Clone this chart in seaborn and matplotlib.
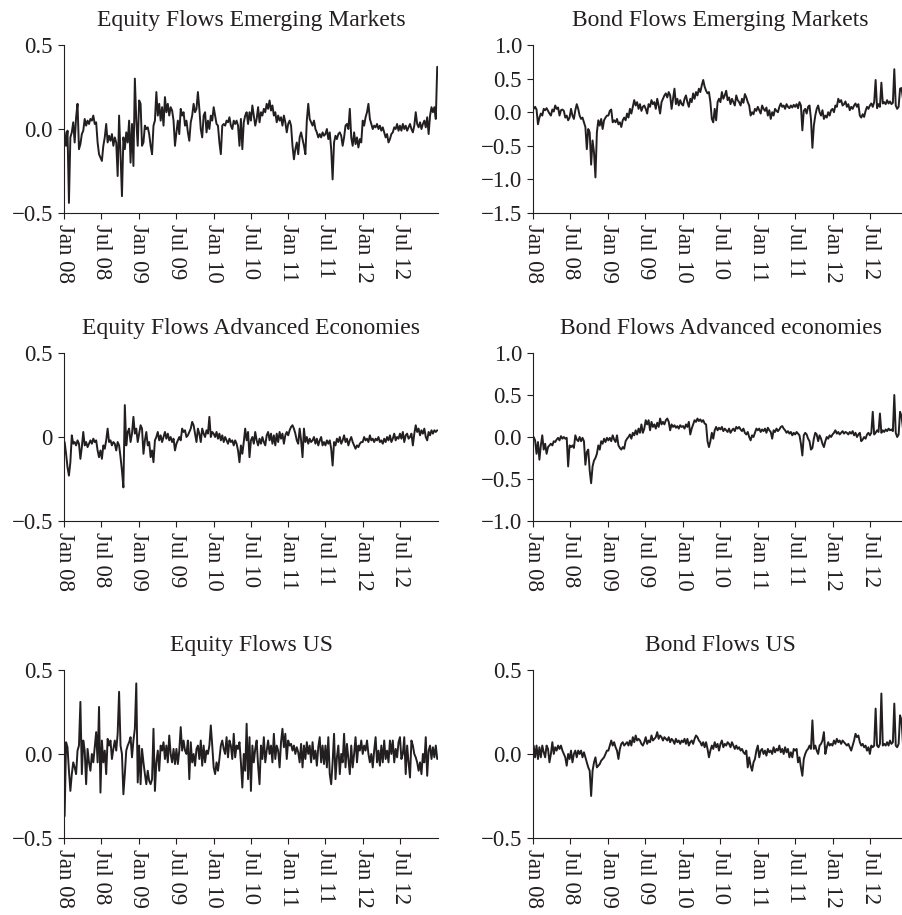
import pandas as pd
import matplotlib
matplotlib.use("Agg")
import matplotlib.pyplot as plt
import seaborn as sns

# weekly flows, Jan 2008 - Dec 2012 (one row per half-year)
eq_em = [
    -0.02, -0.10, -0.01, -0.44, -0.05, -0.02, 0.04, -0.08, 0.07, 0.15, -0.12, -0.09, -0.03, -0.01, 0.06, 0.02, 0.05, 0.03, 0.06, 0.05, 0.08, 0.03, 0.04, -0.08, -0.15, -0.17,
    -0.19, -0.10, -0.05, 0.03, -0.08, -0.04, -0.07, -0.03, -0.10, -0.05, -0.08, -0.28, 0.08, -0.15, -0.40, -0.05, -0.12, -0.02, -0.08, 0.05, -0.20, 0.03, -0.22, 0.30, 0.05, -0.10,
    0.17, 0.15, -0.10, -0.08, 0.02, 0.00, 0.01, -0.03, -0.10, -0.15, 0.02, 0.05, 0.22, 0.08, 0.15, 0.05, 0.13, 0.02, 0.19, 0.10, 0.15, 0.08, 0.13, 0.11, 0.05, -0.10,
    -0.02, 0.05, -0.03, 0.12, 0.08, 0.10, 0.02, 0.05, -0.02, -0.07, 0.04, 0.08, 0.15, 0.10, 0.12, 0.22, 0.12, 0.00, -0.05, 0.08, 0.10, -0.02, 0.05, 0.00, 0.08, 0.05,
    0.13, 0.08, 0.03, 0.02, -0.08, -0.15, 0.02, 0.03, 0.02, 0.05, 0.04, 0.07, 0.02, 0.00, 0.05, 0.03, 0.05, 0.02, -0.10, 0.06, -0.12, 0.04, 0.08, 0.10, 0.03, 0.10,
    0.05, 0.14, 0.08, 0.02, 0.06, 0.13, 0.04, 0.10, 0.08, 0.12, 0.10, 0.15, 0.12, 0.17, 0.11, 0.14, 0.08, 0.10, 0.04, 0.08, 0.05, 0.07, 0.02, 0.08, 0.04, -0.02,
    0.03, 0.05, 0.02, -0.10, -0.18, -0.12, -0.08, -0.15, -0.05, -0.02, -0.06, -0.10, -0.15, 0.05, 0.15, 0.06, 0.04, 0.02, 0.05, 0.00, -0.02, -0.05, -0.03, -0.05, -0.02, -0.04,
    -0.03, 0.00, -0.06, -0.02, -0.12, -0.30, -0.08, -0.04, -0.06, -0.03, -0.02, -0.04, -0.10, -0.05, 0.02, 0.03, 0.00, 0.12, -0.05, -0.10, -0.02, -0.09, -0.05, -0.11, -0.06, -0.08,
    0.05, 0.02, 0.07, 0.10, 0.15, 0.06, 0.03, 0.00, 0.02, 0.01, 0.03, 0.00, 0.02, -0.01, 0.01, -0.02, -0.05, -0.03, -0.08, -0.06, -0.03, -0.02, 0.01, 0.00, 0.03, -0.01,
    0.02, -0.01, 0.03, 0.00, 0.02, -0.01, 0.01, 0.03, 0.00, -0.02, 0.02, 0.10, 0.03, 0.01, 0.04, 0.00, 0.03, 0.05, 0.01, 0.07, -0.03, 0.08, 0.13, 0.10, 0.13, 0.06, 0.37,
]

bd_em = [
    0.05, 0.08, 0.04, -0.18, -0.08, -0.02, -0.05, 0.05, 0.03, 0.06, 0.02, -0.02, -0.05, 0.04, 0.01, 0.10, 0.05, 0.07, -0.05, 0.03, 0.04, 0.02, -0.08, -0.05, -0.12, -0.08,
    0.05, -0.05, -0.10, 0.03, 0.12, 0.05, -0.05, -0.10, -0.08, -0.15, -0.22, -0.55, -0.25, -0.30, -0.78, -0.42, -0.60, -0.97, -0.30, -0.12, -0.20, -0.10, -0.25, -0.12, -0.08, -0.05,
    -0.05, 0.02, 0.04, -0.15, -0.12, -0.15, -0.10, -0.18, -0.15, -0.22, -0.12, -0.08, -0.12, -0.02, -0.08, 0.05, -0.02, 0.08, 0.18, 0.10, 0.15, 0.05, 0.12, 0.02, 0.08, 0.10,
    0.05, -0.02, 0.12, 0.08, 0.18, 0.12, 0.15, 0.05, 0.20, 0.10, -0.02, 0.15, 0.20, 0.25, 0.28, 0.22, 0.30, 0.25, 0.05, 0.20, 0.35, 0.12, 0.20, 0.10, 0.18, 0.12,
    0.10, 0.20, 0.25, 0.15, 0.08, 0.20, 0.15, 0.28, 0.20, 0.30, 0.25, 0.35, 0.30, 0.40, 0.48, 0.38, 0.32, 0.28, 0.30, 0.15, -0.10, -0.15, 0.05, -0.12, 0.15, 0.20,
    0.15, 0.30, 0.20, 0.25, 0.32, 0.18, 0.22, 0.12, 0.20, 0.15, 0.10, 0.25, 0.18, 0.15, 0.10, 0.20, 0.14, 0.27, 0.22, 0.15, 0.10, -0.05, 0.00, -0.03, 0.05, 0.02,
    0.08, 0.03, -0.02, 0.10, 0.05, 0.02, 0.07, -0.05, 0.03, -0.10, 0.00, -0.05, 0.05, 0.02, 0.00, 0.08, 0.13, 0.08, 0.10, 0.05, 0.12, 0.08, 0.06, 0.10, 0.07, 0.11,
    0.08, 0.12, 0.06, 0.15, 0.10, -0.27, 0.02, 0.05, -0.02, 0.08, 0.10, -0.10, -0.53, -0.20, -0.05, 0.05, 0.10, 0.00, -0.05, 0.03, -0.10, -0.05, -0.08, 0.00, -0.05, 0.03,
    0.05, 0.00, 0.10, 0.08, 0.20, 0.15, 0.18, 0.10, 0.12, 0.16, 0.08, 0.12, 0.03, 0.08, 0.05, 0.10, 0.13, 0.08, 0.12, -0.05, -0.08, -0.03, -0.07, 0.02, 0.08, 0.05,
    0.10, 0.13, 0.08, 0.15, 0.48, 0.06, 0.12, 0.08, 0.44, 0.13, 0.15, 0.12, 0.18, 0.13, 0.16, 0.12, 0.14, 0.64, 0.10, 0.05, 0.08, 0.35, 0.36, 0.20, 0.15, 0.22, 0.18,
]

eq_ae = [
    -0.03, -0.10, -0.18, -0.23, -0.15, 0.01, -0.04, -0.03, -0.05, -0.02, -0.04, -0.13, -0.06, 0.03, -0.05, -0.03, -0.06, -0.04, -0.02, -0.04, -0.01, -0.03, -0.02, -0.08, -0.12, -0.08,
    -0.13, -0.05, -0.07, -0.02, 0.05, -0.03, -0.02, -0.05, -0.03, -0.04, -0.08, -0.03, -0.05, -0.12, -0.20, -0.30, 0.19, -0.05, 0.03, 0.05, -0.03, 0.02, 0.12, 0.02, 0.05, -0.03,
    0.02, 0.07, 0.05, -0.10, -0.02, 0.03, -0.05, -0.03, -0.12, -0.08, -0.15, -0.02, 0.00, 0.03, -0.02, 0.01, -0.03, 0.00, 0.03, -0.01, 0.02, -0.02, 0.00, -0.03, -0.01, -0.08,
    -0.04, -0.02, 0.00, -0.02, 0.05, 0.03, 0.04, 0.00, 0.01, 0.03, 0.05, 0.09, 0.07, 0.02, -0.03, 0.05, 0.02, -0.03, 0.05, 0.02, 0.00, 0.04, 0.02, 0.12, 0.00, 0.03,
    0.02, 0.00, 0.03, -0.01, 0.02, -0.02, 0.01, -0.03, 0.00, -0.02, -0.04, -0.01, -0.03, -0.02, -0.05, -0.02, -0.04, -0.08, -0.15, -0.05, -0.10, -0.03, 0.05, -0.02, 0.03, -0.12,
    -0.02, 0.00, -0.04, 0.03, -0.02, -0.05, -0.01, -0.04, 0.00, -0.03, -0.05, 0.01, 0.03, -0.02, 0.02, -0.04, 0.01, -0.05, 0.02, -0.03, 0.03, -0.01, 0.02, -0.04, 0.01, 0.03,
    0.01, 0.04, 0.06, 0.07, 0.05, 0.02, -0.02, -0.04, 0.05, -0.02, -0.12, 0.05, -0.03, 0.00, -0.04, -0.01, -0.03, -0.02, 0.00, -0.04, -0.01, -0.05, -0.02, 0.00, -0.05, -0.03,
    -0.05, -0.02, -0.04, -0.02, -0.07, -0.17, -0.03, -0.05, -0.01, -0.03, 0.00, -0.04, -0.02, 0.01, -0.03, -0.01, -0.05, -0.02, 0.00, -0.03, -0.05, -0.07, -0.05, -0.06, -0.04, -0.03,
    -0.03, 0.00, -0.02, -0.01, -0.03, 0.01, -0.02, -0.01, -0.03, -0.01, -0.02, 0.00, -0.03, -0.02, -0.04, -0.01, -0.03, 0.00, -0.02, 0.01, -0.03, -0.01, 0.02, -0.02, 0.00, -0.01,
    0.02, -0.01, 0.03, -0.03, 0.01, 0.02, -0.01, 0.00, 0.02, -0.05, 0.02, 0.07, 0.03, 0.05, 0.01, 0.04, 0.02, 0.05, 0.00, -0.02, 0.03, 0.01, 0.04, 0.02, 0.04, 0.03, 0.04,
]

bd_ae = [
    0.00, -0.04, -0.20, -0.06, -0.27, -0.10, 0.02, -0.15, -0.08, -0.20, -0.12, -0.10, -0.08, -0.10, -0.05, -0.06, -0.03, -0.01, -0.04, 0.01, -0.02, 0.00, -0.02, -0.01, -0.35, -0.10,
    -0.12, -0.10, -0.13, 0.02, -0.03, -0.05, 0.00, -0.05, -0.01, -0.05, -0.33, -0.18, -0.15, -0.40, -0.55, -0.35, -0.28, -0.25, -0.20, -0.10, -0.15, -0.05, -0.08, -0.02, -0.06, -0.01,
    -0.04, -0.01, -0.05, 0.02, -0.03, -0.06, 0.02, -0.10, -0.13, -0.15, -0.12, -0.14, -0.05, -0.02, 0.00, 0.03, -0.02, 0.05, 0.02, 0.08, 0.03, 0.10, 0.05, 0.15, 0.05, 0.10,
    0.20, 0.15, 0.20, 0.08, 0.18, 0.12, 0.15, 0.10, 0.17, 0.12, 0.22, 0.15, 0.18, 0.15, 0.20, 0.22, 0.18, 0.08, 0.15, 0.12, 0.14, 0.11, 0.13, 0.10, 0.14, 0.12,
    0.13, 0.10, 0.15, 0.12, 0.18, 0.03, 0.10, 0.15, 0.20, 0.18, 0.22, 0.19, 0.21, 0.18, 0.20, 0.16, 0.15, -0.05, -0.12, -0.05, 0.05, -0.02, 0.08, 0.12, 0.08, 0.11,
    0.09, 0.12, 0.07, 0.10, 0.08, 0.06, 0.10, 0.05, 0.08, 0.10, 0.07, 0.12, 0.10, 0.12, 0.09, 0.07, 0.10, 0.05, 0.03, 0.06, 0.00, -0.04, 0.02, 0.00, 0.05, 0.10,
    0.08, 0.10, 0.06, 0.09, 0.07, 0.10, 0.05, 0.11, 0.08, 0.06, -0.02, 0.08, 0.06, 0.10, 0.07, 0.09, 0.12, 0.13, 0.10, 0.08, 0.05, 0.07, 0.04, 0.06, 0.02, 0.05,
    0.03, 0.06, 0.04, 0.02, -0.08, -0.22, 0.02, 0.05, 0.03, -0.02, -0.05, -0.15, -0.13, -0.02, 0.05, 0.03, -0.05, 0.02, -0.02, -0.08, -0.12, -0.05, 0.00, -0.02, 0.02, 0.00,
    0.03, 0.05, 0.08, 0.04, 0.06, 0.03, 0.05, 0.07, 0.04, 0.06, 0.05, 0.03, 0.06, 0.04, 0.07, 0.02, 0.05, 0.00, 0.03, 0.05, -0.05, -0.03, 0.00, -0.02, 0.03, 0.05,
    0.02, 0.05, 0.30, 0.03, 0.05, 0.08, 0.06, 0.28, 0.05, 0.08, 0.06, 0.09, 0.07, 0.10, 0.08, 0.09, 0.07, 0.50, 0.05, 0.00, 0.03, 0.30, 0.25, 0.10, 0.08, 0.12, 0.10,
]

eq_us = [
    -0.37, 0.07, 0.04, -0.10, -0.22, -0.12, -0.05, -0.08, -0.12, 0.02, 0.05, 0.31, -0.12, 0.08, 0.02, -0.18, 0.03, -0.05, -0.10, 0.00, -0.05, 0.04, 0.13, -0.05, 0.28, -0.23,
    0.08, -0.05, 0.02, -0.12, 0.09, 0.05, 0.08, -0.03, 0.03, 0.08, 0.02, 0.12, 0.37, 0.05, 0.00, -0.24, -0.12, 0.02, 0.05, 0.07, 0.10, -0.02, 0.08, 0.15, 0.42, -0.17,
    0.05, -0.18, 0.03, -0.05, -0.12, -0.18, -0.10, -0.16, -0.18, -0.15, 0.15, -0.22, -0.05, 0.02, -0.10, 0.05, 0.02, 0.07, -0.03, 0.05, -0.05, 0.11, 0.00, -0.05, 0.03, -0.06,
    0.03, -0.06, 0.02, 0.16, 0.02, 0.08, 0.02, 0.00, 0.08, -0.15, 0.07, -0.05, 0.00, -0.07, 0.03, 0.05, -0.03, 0.08, -0.07, 0.05, -0.05, 0.02, 0.00, 0.05, 0.17, 0.05,
    -0.08, -0.12, -0.05, -0.10, -0.03, 0.05, 0.08, 0.03, 0.00, 0.10, -0.02, 0.08, 0.05, -0.03, 0.12, -0.02, 0.05, 0.03, 0.07, -0.05, -0.20, 0.00, -0.10, 0.18, -0.15, 0.10,
    -0.22, 0.05, -0.05, 0.03, 0.08, -0.07, -0.18, 0.05, -0.03, 0.10, -0.05, 0.02, 0.08, 0.00, 0.05, -0.05, 0.12, -0.03, 0.05, 0.02, -0.08, 0.07, 0.15, 0.04, 0.12, -0.03,
    0.08, 0.05, 0.06, 0.02, 0.05, 0.00, 0.04, 0.01, -0.05, 0.06, -0.08, 0.05, -0.03, 0.07, 0.00, 0.05, -0.05, 0.07, -0.03, 0.02, -0.07, 0.04, 0.10, -0.05, 0.05, -0.06,
    0.05, -0.08, 0.10, -0.12, -0.18, -0.05, 0.12, -0.15, -0.02, 0.05, -0.12, 0.00, -0.05, 0.12, -0.08, 0.06, -0.03, -0.12, 0.05, -0.08, 0.00, 0.10, -0.05, 0.05, 0.02, 0.08,
    0.00, 0.05, 0.02, 0.08, 0.00, -0.05, 0.00, -0.08, 0.02, 0.10, -0.05, 0.02, -0.07, 0.05, -0.05, 0.08, -0.03, 0.02, -0.05, 0.08, 0.00, 0.08, -0.05, 0.03, -0.02, 0.07,
    0.10, -0.03, 0.00, 0.10, -0.12, 0.05, -0.05, -0.14, 0.08, 0.05, 0.00, -0.02, -0.05, -0.10, -0.05, -0.12, 0.00, -0.05, 0.10, -0.13, 0.02, 0.05, -0.03, 0.04, -0.02, 0.05, -0.03,
]

bd_us = [
    0.05, -0.02, 0.05, -0.03, 0.04, -0.02, 0.05, 0.01, -0.02, 0.05, 0.03, -0.05, 0.00, 0.07, 0.00, 0.04, 0.02, 0.05, 0.03, 0.05, 0.02, 0.00, -0.02, -0.07, 0.00, -0.03,
    0.02, -0.05, 0.00, 0.02, -0.02, 0.02, 0.00, 0.02, -0.02, 0.01, -0.02, -0.05, -0.08, -0.10, -0.25, -0.10, -0.05, -0.02, -0.08, -0.07, -0.06, -0.04, -0.03, -0.02, 0.00, 0.02,
    0.02, 0.05, 0.08, 0.05, 0.07, 0.04, 0.02, -0.03, 0.03, 0.06, 0.07, 0.05, 0.06, 0.07, 0.05, 0.08, 0.05, 0.10, 0.07, 0.11, 0.08, 0.09, 0.08, 0.06, 0.05, 0.07,
    0.10, 0.06, 0.08, 0.07, 0.11, 0.08, 0.09, 0.10, 0.13, 0.09, 0.11, 0.10, 0.08, 0.10, 0.09, 0.08, 0.10, 0.07, 0.09, 0.08, 0.06, 0.09, 0.07, 0.08, 0.06, 0.08,
    0.07, 0.09, 0.06, 0.09, 0.05, 0.07, 0.08, 0.06, 0.09, 0.11, 0.10, 0.08, 0.07, 0.05, 0.07, 0.04, 0.07, 0.03, -0.02, 0.02, 0.05, 0.03, 0.07, 0.04, 0.06, 0.02,
    0.06, 0.08, 0.04, 0.06, 0.05, 0.07, 0.06, 0.04, 0.07, 0.05, 0.03, 0.05, 0.03, 0.04, 0.02, 0.03, 0.01, 0.00, 0.02, -0.08, -0.02, -0.07, -0.10, -0.05, -0.03, 0.02,
    0.05, -0.02, 0.02, 0.03, 0.00, 0.02, -0.01, 0.03, 0.01, 0.02, 0.00, 0.04, 0.01, 0.03, 0.02, 0.05, 0.01, 0.03, 0.00, 0.04, 0.01, 0.03, -0.02, 0.01, -0.02, 0.03,
    0.02, 0.03, -0.05, -0.02, -0.08, -0.13, -0.03, 0.00, 0.02, 0.03, 0.05, 0.03, 0.20, 0.03, 0.05, 0.02, 0.00, 0.05, 0.06, 0.08, 0.13, 0.00, 0.04, 0.07, 0.05, 0.06,
    0.05, 0.08, 0.06, 0.09, 0.07, 0.08, 0.06, 0.08, 0.07, 0.06, 0.05, 0.06, 0.04, 0.02, 0.05, 0.08, 0.12, 0.10, 0.11, 0.07, 0.05, 0.06, 0.04, 0.05, 0.02, 0.04,
    0.00, 0.05, 0.04, 0.05, 0.27, 0.05, 0.04, 0.06, 0.36, 0.05, 0.06, 0.05, 0.07, 0.05, 0.08, 0.06, 0.07, 0.30, 0.05, 0.04, 0.06, 0.23, 0.20, 0.06, 0.05, 0.07, 0.05,
]

titles = [
    "Equity Flows Emerging Markets", "Bond Flows Emerging Markets",
    "Equity Flows Advanced Economies", "Bond Flows Advanced economies",
    "Equity Flows US", "Bond Flows US",
]
series = [eq_em, bd_em, eq_ae, bd_ae, eq_us, bd_us]
yticks = [
    [-0.5, 0.0, 0.5], [-1.5, -1.0, -0.5, 0.0, 0.5, 1.0],
    [-0.5, 0.0, 0.5], [-1.0, -0.5, 0.0, 0.5, 1.0],
    [-0.5, 0.0, 0.5], [-0.5, 0.0, 0.5],
]
ylabels = [
    ["\u22120.5", "0.0", "0.5"], ["\u22121.5", "\u22121.0", "\u22120.5", "0.0", "0.5", "1.0"],
    ["\u22120.5", "0", "0.5"], ["\u22121.0", "\u22120.5", "0.0", "0.5", "1.0"],
    ["\u22120.5", "0.0", "0.5"], ["\u22120.5", "0.0", "0.5"],
]
xtick_dates = pd.to_datetime([
    "2008-01-01", "2008-07-01", "2009-01-01", "2009-07-01", "2010-01-01",
    "2010-07-01", "2011-01-01", "2011-07-01", "2012-01-01", "2012-07-01",
])
xtick_labels = ["Jan 08", "Jul 08", "Jan 09", "Jul 09", "Jan 10",
                "Jul 10", "Jan 11", "Jul 11", "Jan 12", "Jul 12"]

ink = "#231f20"
sns.set_style("ticks")
plt.rcParams["font.family"] = ["Liberation Serif", "DejaVu Serif"]
plt.rcParams["axes.edgecolor"] = ink
plt.rcParams["xtick.color"] = ink
plt.rcParams["ytick.color"] = ink
plt.rcParams["text.color"] = ink

fig = plt.figure(figsize=(9.03, 9.15), dpi=100)
lefts = [0.0709, 0.5903]
widths = [0.4142, 0.4153]
bottoms = [0.7672, 0.4306, 0.0842]
height = 0.1836

for k, (title, vals) in enumerate(zip(titles, series)):
    row, col = divmod(k, 2)
    ax = fig.add_axes([lefts[col], bottoms[row], widths[col], height])
    df = pd.DataFrame({
        "week": pd.date_range("2008-01-04", periods=len(vals), freq="W-FRI"),
        "flow": vals,
    })
    sns.lineplot(data=df, x="week", y="flow", ax=ax, color=ink, linewidth=1.4)
    ax.set_xlim(pd.Timestamp("2008-01-01"), pd.Timestamp("2013-01-01"))
    ax.set_ylim(yticks[k][0], yticks[k][-1])
    ax.set_yticks(yticks[k])
    ax.set_yticklabels(ylabels[k], fontsize=16.5)
    ax.set_xticks(xtick_dates)
    ax.set_xticklabels(xtick_labels, rotation=270, ha="center", va="top", fontsize=16.5)
    ax.tick_params(direction="out", length=4, width=0.8, pad=4)
    ax.set_xlabel("")
    ax.set_ylabel("")
    ax.set_title(title, fontsize=17, pad=14)
    sns.despine(ax=ax)
    for s in ("left", "bottom"):
        ax.spines[s].set_linewidth(0.8)

fig.savefig("out.png", dpi=100)
